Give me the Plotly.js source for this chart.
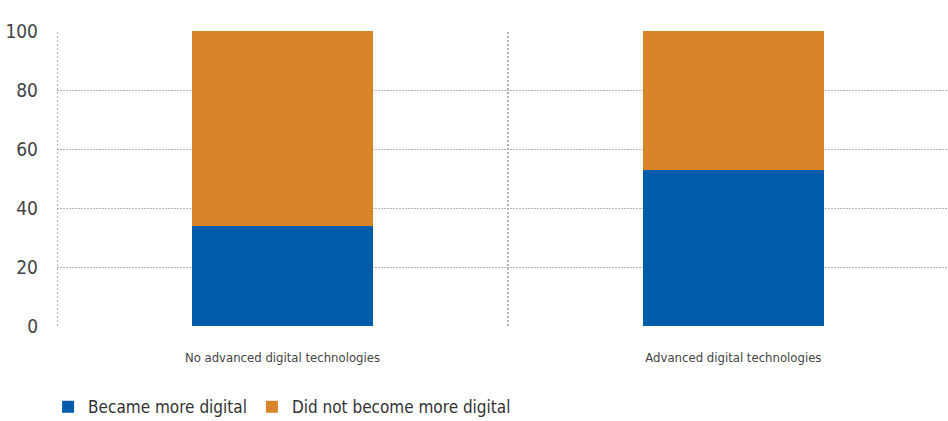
<!DOCTYPE html>
<html><head><meta charset="utf-8">
<script src="https://cdn.plot.ly/plotly-3.0.1.min.js"></script>
<style>html,body{margin:0;padding:0;background:#fff;}#chart{width:948px;height:421px;}
#chart text{font-stretch:condensed !important;}</style>
</head><body><div id="chart"></div>
<script>
const categories = ["No advanced digital technologies", "Advanced digital technologies"];
const becameMoreDigital = [34, 53];
const didNotBecomeMoreDigital = [66, 47];
const yTicks = [0, 20, 40, 60, 80, 100];

const FONT = "'DejaVu Sans Condensed', 'DejaVu Sans', sans-serif";
const xIdx = categories.map((_, i) => i);

const traces = [
  {type: 'bar', name: 'Became more digital', x: xIdx, y: becameMoreDigital,
   marker: {color: '#005BAA'}, width: 0.4, hoverinfo: 'y'},
  {type: 'bar', name: 'Did not become more digital', x: xIdx, y: didNotBecomeMoreDigital,
   marker: {color: '#D9842A'}, width: 0.4, hoverinfo: 'y'}
];

const shapes = [-0.5, 0.5].map(v => ({
  type: 'line', xref: 'x', yref: 'y', x0: v, x1: v, y0: 0, y1: 100,
  line: {color: '#666', width: 1, dash: '2px,2px'}, layer: 'below'
}));

const layout = {
  width: 948, height: 421,
  margin: {l: 57, r: 0, t: 31, b: 95, autoexpand: false},
  barmode: 'stack',
  paper_bgcolor: '#fff', plot_bgcolor: '#fff',
  font: {family: FONT, color: '#444'},
  showlegend: true,
  legend: {orientation: 'h', x: -0.01, xanchor: 'left', y: -0.275, yanchor: 'middle',
           font: {family: FONT, size: 17, color: '#333'}, itemwidth: 30, traceorder: 'normal'},
  xaxis: {range: [-0.5, 1.476], tickvals: xIdx, ticktext: categories, automargin: false,
          showgrid: false, zeroline: false, showline: false, ticks: '', ticklabelstandoff: 22,
          tickfont: {family: FONT, size: 13, color: '#444'}, fixedrange: true},
  yaxis: {range: [0, 100], tickvals: yTicks, showgrid: true, gridcolor: '#b5b5b5', griddash: '2px,1px',
          gridwidth: 1, zeroline: false, showline: false, ticks: '', ticklabelstandoff: 18, automargin: false,
          tickfont: {family: FONT, size: 19, color: '#444'}, fixedrange: true},
  shapes: shapes,
  bargap: 0
};

Plotly.newPlot('chart', traces, layout, {displayModeBar: false, staticPlot: true});
</script></body></html>
